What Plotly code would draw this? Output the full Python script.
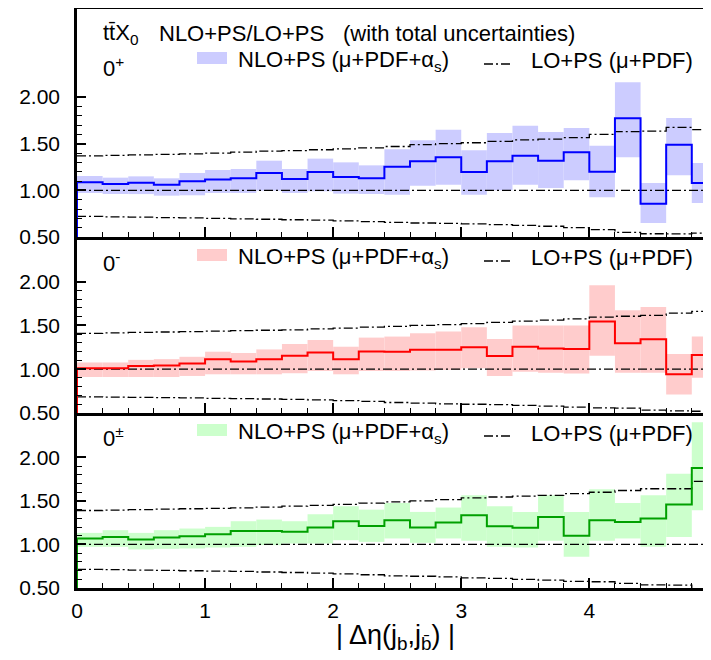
import plotly.graph_objects as go

# ---------------- data ----------------
edges = [0.0, 0.2, 0.4, 0.6, 0.8, 1.0, 1.2, 1.4, 1.6, 1.8, 2.0, 2.2, 2.4, 2.6,
         2.8, 3.0, 3.2, 3.4, 3.6, 3.8, 4.0, 4.2, 4.4, 4.6, 4.8, 5.0]

# panel 0+
nlo_plus = [1.086, 1.068, 1.082, 1.061, 1.097, 1.115, 1.129, 1.186, 1.122, 1.197, 1.143, 1.129, 1.254,
            1.311, 1.354, 1.197, 1.311, 1.372, 1.318, 1.408, 1.200, 1.772, 0.857, 1.490, 1.079]
nlo_plus_hi = [1.154, 1.136, 1.150, 1.129, 1.186, 1.218, 1.229, 1.318, 1.229, 1.340, 1.300, 1.268, 1.440,
               1.536, 1.650, 1.430, 1.615, 1.693, 1.625, 1.668, 1.479, 2.158, 1.079, 1.776, 1.293]
nlo_plus_lo = [0.972, 0.961, 0.960, 0.943, 0.947, 0.972, 0.972, 0.997, 0.972, 0.990, 0.965, 0.961, 0.954,
               1.050, 1.061, 0.954, 1.000, 1.061, 1.025, 1.107, 0.925, 1.354, 0.650, 1.161, 0.865]
lo_plus_hi = [1.370, 1.375, 1.380, 1.385, 1.390, 1.400, 1.410, 1.420, 1.425, 1.435, 1.445, 1.455, 1.470,
              1.490, 1.500, 1.510, 1.525, 1.540, 1.550, 1.565, 1.600, 1.630, 1.635, 1.675, 1.650]
lo_plus_lo = [0.720, 0.715, 0.712, 0.708, 0.705, 0.700, 0.695, 0.690, 0.685, 0.680, 0.672, 0.665, 0.657,
              0.650, 0.645, 0.640, 0.632, 0.625, 0.615, 0.600, 0.579, 0.550, 0.535, 0.533, 0.542]

# panel 0-
nlo_minus = [1.012, 1.012, 1.038, 1.042, 1.065, 1.115, 1.088, 1.115, 1.153, 1.192, 1.115, 1.203, 1.200,
             1.223, 1.223, 1.250, 1.150, 1.257, 1.238, 1.230, 1.546, 1.296, 1.342, 0.942, 1.161]
nlo_minus_hi = [1.077, 1.077, 1.107, 1.115, 1.142, 1.200, 1.185, 1.226, 1.288, 1.334, 1.257, 1.361, 1.373,
                1.411, 1.430, 1.480, 1.346, 1.500, 1.500, 1.500, 1.960, 1.673, 1.711, 1.173, 1.373]
nlo_minus_lo = [0.911, 0.911, 0.911, 0.911, 0.923, 0.942, 0.942, 0.942, 0.954, 0.980, 0.942, 0.980, 0.980,
                0.985, 0.990, 1.012, 0.923, 0.972, 0.960, 0.950, 1.153, 0.960, 0.960, 0.712, 0.903]
lo_minus_hi = [1.410, 1.415, 1.420, 1.425, 1.430, 1.435, 1.440, 1.445, 1.450, 1.460, 1.470, 1.480, 1.490,
               1.500, 1.510, 1.520, 1.535, 1.550, 1.560, 1.575, 1.595, 1.605, 1.615, 1.640, 1.660]
lo_minus_lo = [0.685, 0.682, 0.678, 0.675, 0.672, 0.668, 0.664, 0.660, 0.655, 0.650, 0.642, 0.632, 0.620,
               0.612, 0.605, 0.600, 0.595, 0.588, 0.578, 0.568, 0.559, 0.555, 0.532, 0.525, 0.520]

# panel 0±
nlo_mix = [1.069, 1.087, 1.057, 1.080, 1.095, 1.118, 1.156, 1.156, 1.145, 1.195, 1.267, 1.213, 1.278,
           1.195, 1.252, 1.336, 1.210, 1.191, 1.316, 1.099, 1.278, 1.259, 1.298, 1.458, 1.877]
nlo_mix_hi = [1.133, 1.164, 1.133, 1.164, 1.183, 1.202, 1.267, 1.286, 1.267, 1.347, 1.439, 1.400, 1.476,
              1.374, 1.424, 1.565, 1.439, 1.374, 1.565, 1.374, 1.633, 1.476, 1.565, 1.813, 2.404]
nlo_mix_lo = [0.973, 0.973, 0.943, 0.950, 0.954, 0.965, 0.973, 0.992, 1.011, 1.011, 1.049, 1.030, 1.069,
              1.019, 1.069, 1.042, 0.973, 0.965, 1.042, 0.858, 1.042, 1.069, 0.973, 1.087, 1.393]
lo_mix_hi = [1.390, 1.395, 1.400, 1.405, 1.410, 1.415, 1.420, 1.430, 1.440, 1.450, 1.460, 1.475, 1.490,
             1.500, 1.515, 1.535, 1.545, 1.555, 1.565, 1.585, 1.600, 1.620, 1.640, 1.640, 1.725]
lo_mix_lo = [0.714, 0.710, 0.706, 0.702, 0.698, 0.694, 0.690, 0.684, 0.678, 0.670, 0.662, 0.652, 0.640,
             0.635, 0.628, 0.617, 0.610, 0.600, 0.590, 0.575, 0.572, 0.553, 0.535, 0.533, 0.450]

x_ticks = [0, 1, 2, 3, 4]
x_tick_labels = ["0", "1", "2", "3", "4"]
y_ticks = [0.5, 1.0, 1.5, 2.0]
y_tick_labels = ["0.50", "1.00", "1.50", "2.00"]

panels = [
    dict(label="0<sup>+</sup>", c=nlo_plus, hi=nlo_plus_hi, lo=nlo_plus_lo, lhi=lo_plus_hi, llo=lo_plus_lo,
         line="#0000ff", band="#ccccff"),
    dict(label="0<sup>-</sup>", c=nlo_minus, hi=nlo_minus_hi, lo=nlo_minus_lo, lhi=lo_minus_hi, llo=lo_minus_lo,
         line="#ff0000", band="#ffcccc"),
    dict(label="0<sup>±</sup>", c=nlo_mix, hi=nlo_mix_hi, lo=nlo_mix_lo, lhi=lo_mix_hi, llo=lo_mix_lo,
         line="#00a000", band="#ccffcc"),
]

# ---------------- layout geometry ----------------
# The page body adds an 8px offset; positions below are in window pixels.
OFF = 8
W, H = 711 - OFF, 660 - OFF
ML, MR, MT, MB = 77 - OFF, 0, 1, 72
PW, PH = W - ML - MR, H - MT - MB
panel_px = [(OFF + MT, 237), (237, 413), (413, 588)]   # window rows: top, bottom
yranges = [[0.5, 0.5 + (237 - OFF - MT) / 93.3], [0.5, 2.51], [0.5, 2.51]]


def py(sy):
    return (H - MB - (sy - OFF)) / PH


def px(sx):
    return (sx - OFF - ML) / PW


FONT = "Liberation Sans, Arial, sans-serif"
FS = 21
AFS = 22
DASHDOT = "9px,3px,2px,3px"

fig = go.Figure()
centers = [(edges[i] + edges[i + 1]) / 2 for i in range(len(edges) - 1)]
widths = [edges[i + 1] - edges[i] for i in range(len(edges) - 1)]

for i, p in enumerate(panels):
    xa = "x" if i == 0 else f"x{i+1}"
    ya = "y" if i == 0 else f"y{i+1}"
    fig.add_trace(go.Bar(x=centers, y=[h - l for h, l in zip(p["hi"], p["lo"])], base=p["lo"],
                         width=widths, marker=dict(color=p["band"], line=dict(width=0)),
                         xaxis=xa, yaxis=ya, showlegend=False, hoverinfo="skip"))
    for arr in (p["lhi"], p["llo"]):
        fig.add_trace(go.Scatter(x=edges, y=arr + [arr[-1]], mode="lines", line_shape="hv",
                                 line=dict(color="black", width=1.3, dash=DASHDOT),
                                 xaxis=xa, yaxis=ya, showlegend=False, hoverinfo="skip"))
    fig.add_trace(go.Scatter(x=[edges[0], edges[-1]], y=[1.0, 1.0], mode="lines",
                             line=dict(color="black", width=1.3, dash=DASHDOT),
                             xaxis=xa, yaxis=ya, showlegend=False, hoverinfo="skip"))
    fig.add_trace(go.Scatter(x=[edges[0]] + edges, y=[0] + p["c"] + [p["c"][-1]], mode="lines",
                             line_shape="hv", line=dict(color=p["line"], width=2),
                             xaxis=xa, yaxis=ya, showlegend=False, hoverinfo="skip"))

layout = dict(
    width=W, height=H, margin=dict(l=ML, r=MR, t=MT, b=MB, pad=0, autoexpand=False),
    plot_bgcolor="white", paper_bgcolor="white", showlegend=False,
    barmode="overlay", font=dict(family=FONT, size=FS, color="black"),
)

for i in range(3):
    top, bot = panel_px[i]
    xk = "xaxis" if i == 0 else f"xaxis{i+1}"
    yk = "yaxis" if i == 0 else f"yaxis{i+1}"
    ya = "y" if i == 0 else f"y{i+1}"
    xa = "x" if i == 0 else f"x{i+1}"
    layout[xk] = dict(
        domain=[0, 1], anchor=ya, range=[0, 4.95], showgrid=False, zeroline=False, automargin=False,
        showline=True, linewidth=2.5, linecolor="black", mirror=(i == 0),
        ticks="inside", ticklen=10, tickwidth=1.5, tickcolor="black",
        tickvals=x_ticks, ticktext=x_tick_labels, showticklabels=(i == 2),
        tickfont=dict(size=FS, family=FONT), ticklabelstandoff=2,
        minor=dict(ticks="inside", ticklen=5, tickwidth=1.2, tickcolor="black",
                   tickvals=edges, showgrid=False),
    )
    if i > 0:
        layout[xk]["matches"] = "x"
    layout[yk] = dict(
        domain=[py(bot), py(top)], anchor=xa, range=yranges[i], showgrid=False, zeroline=False,
        automargin=False,
        showline=True, linewidth=2.5, linecolor="black",
        ticks="inside", ticklen=9, tickwidth=1.5, tickcolor="black",
        tickvals=y_ticks, ticktext=y_tick_labels,
        tickfont=dict(size=FS, family=FONT), ticklabelstandoff=10,
        minor=dict(ticks="inside", ticklen=5, tickwidth=1.2, tickcolor="black",
                   tickvals=[0.6, 0.7, 0.8, 0.9, 1.1, 1.2, 1.3, 1.4, 1.6, 1.7, 1.8, 1.9],
                   showgrid=False),
    )

fig.update_layout(**layout)

annotations = []
shapes = []


def note(text, sx, sy, size=AFS, anchor="left"):
    annotations.append(dict(text=text, x=px(sx), y=py(sy), xref="paper", yref="paper",
                            xanchor=anchor, yanchor="middle", showarrow=False,
                            font=dict(size=size, family=FONT)))


# header line of top panel
note("tt\u0304X<sub>0</sub>", 101, 34)
note("NLO+PS/LO+PS", 157, 33)
note("(with total uncertainties)", 341, 33)

leg_y = [61, 258, 433]
lab_y = [67, 262, 437]
for i, p in enumerate(panels):
    note(p["label"], 101, lab_y[i])
    shapes.append(dict(type="rect", xref="paper", yref="paper", x0=px(197), x1=px(227),
                       y0=py(leg_y[i] + 3), y1=py(leg_y[i] - 9), fillcolor=p["band"],
                       line=dict(width=0)))
    note("NLO+PS (\u03bc+PDF+\u03b1<sub>s</sub>)", 236, leg_y[i])
    shapes.append(dict(type="line", xref="paper", yref="paper", x0=px(484), x1=px(511),
                       y0=py(leg_y[i] + 3), y1=py(leg_y[i] + 3),
                       line=dict(color="black", width=1.3, dash=DASHDOT)))
    note("LO+PS (\u03bc+PDF)", 529, leg_y[i])

note("| \u0394\u03b7(j<sub>b</sub>,j<sub>b\u0304</sub>) |", 395, 637, size=27, anchor="center")

fig.update_layout(annotations=annotations, shapes=shapes)

fig.write_html("out.html")
